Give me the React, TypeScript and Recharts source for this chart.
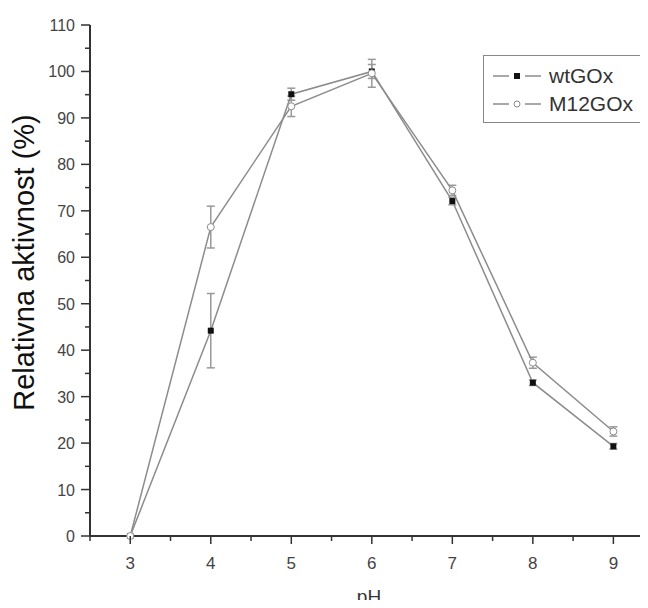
import { LineChart, Line, XAxis, YAxis, ErrorBar, Label } from "recharts"

const phValues = [3, 4, 5, 6, 7, 8, 9]
const wtGOx = [0, 44.2, 95.1, 100, 72.1, 33, 19.3]
const wtGOxErr = [0, 8, 1.3, 1.5, 0.8, 0.6, 0.6]
const m12GOx = [0, 66.5, 92.5, 99.6, 74.4, 37.3, 22.5]
const m12GOxErr = [0, 4.5, 2.2, 3, 1.1, 1.2, 1]

const seriesNames = ["wtGOx", "M12GOx"]
const xTicks = [2.5, 3, 3.5, 4, 4.5, 5, 5.5, 6, 6.5, 7, 7.5, 8, 8.5, 9]
const yTicks = Array.from({ length: 23 }, (_, i) => i * 5)

const data = phValues.map((ph, i) => ({
  ph,
  wt: wtGOx[i],
  wtErr: wtGOxErr[i],
  m12: m12GOx[i],
  m12Err: m12GOxErr[i],
}))

const AXIS = "#333"
const LINE = "#8c8c8c"
const FONT = "'Liberation Sans', Arial, sans-serif"

const XTick = (props: any) => {
  const { x, y, payload } = props
  const major = Number.isInteger(payload.value)
  return (
    <g>
      <line x1={x} x2={x} y1={y} y2={y + (major ? 8 : 5)} stroke={AXIS} strokeWidth={1.5} />
      {major && (
        <text x={x} y={y + 33} textAnchor="middle" fontSize={17} fill="#444" fontFamily={FONT}>
          {payload.value}
        </text>
      )}
    </g>
  )
}

const YTick = (props: any) => {
  const { x, y, payload } = props
  const major = payload.value % 10 === 0
  return (
    <g>
      <line x1={x - (major ? 9 : 5)} x2={x} y1={y} y2={y} stroke={AXIS} strokeWidth={1.5} />
      {major && (
        <text x={x - 15} y={y + 6} textAnchor="end" fontSize={16} fill="#444" fontFamily={FONT}>
          {payload.value}
        </text>
      )}
    </g>
  )
}

const WtDot = (props: any) => {
  const { cx, cy, index } = props
  return <rect key={`wt-${index}`} x={cx - 3} y={cy - 3} width={6} height={6} fill="#111" />
}

// legend box drawn over the plot, like the original
const LegendBox = () => (
  <div
    style={{
      position: "absolute",
      left: 483,
      top: 55,
      width: 158,
      height: 66,
      border: "1px solid #888",
      background: "#fff",
      fontFamily: FONT,
      fontSize: 21,
      color: "#333",
    }}
  >
    {seriesNames.map((name, i) => (
      <div key={name} style={{ position: "absolute", left: 0, top: 8 + i * 28, height: 24, display: "flex", alignItems: "center" }}>
        <svg width={62} height={24}>
          <line x1={9} x2={57} y1={12} y2={12} stroke={LINE} strokeWidth={1.5} />
          <rect x={25} y={9} width={16} height={6} fill="#fff" />
          {i === 0 ? (
            <rect x={30} y={9} width={6} height={6} fill="#111" />
          ) : (
            <circle cx={33} cy={12} r={3} fill="#fff" stroke={LINE} strokeWidth={1} />
          )}
        </svg>
        <span style={{ marginLeft: 3 }}>{name}</span>
      </div>
    ))}
  </div>
)

export default function App() {
  return (
    <div style={{ position: "relative", marginLeft: -8, marginTop: -8, marginBottom: -8, width: 648, height: 608, background: "#fff" }}>
      <LineChart width={648} height={608} data={data} margin={{ top: 25, right: 0, bottom: 0, left: 0 }}>
        <XAxis
          dataKey="ph"
          type="number"
          domain={[2.5, 9.43]}
          ticks={xTicks}
          interval={0}
          tick={<XTick />}
          tickLine={false}
          tickSize={0}
          tickMargin={0}
          axisLine={{ stroke: AXIS, strokeWidth: 2 }}
          height={72}
          allowDataOverflow
        >
          <Label value="pH" position="insideBottom" offset={5} fontSize={19} fill="#333" fontFamily={FONT} />
        </XAxis>
        <YAxis
          type="number"
          domain={[0, 110]}
          ticks={yTicks}
          interval={0}
          tick={<YTick />}
          tickLine={false}
          tickSize={0}
          tickMargin={0}
          axisLine={{ stroke: AXIS, strokeWidth: 2 }}
          width={90}
        >
          <Label
            value="Relativna aktivnost (%)"
            angle={-90}
            position="insideLeft"
            offset={0}
            dx={24}
            dy={-18}
            fontSize={29}
            fill="#111"
            fontFamily={FONT}
            style={{ textAnchor: "middle" }}
          />
        </YAxis>
        <Line
          dataKey="wt"
          name={seriesNames[0]}
          stroke={LINE}
          strokeWidth={1.5}
          dot={<WtDot />}
          activeDot={false}
          isAnimationActive={false}
        >
          <ErrorBar dataKey="wtErr" width={4} stroke="#999" strokeWidth={1.5} direction="y" />
        </Line>
        <Line
          dataKey="m12"
          name={seriesNames[1]}
          stroke={LINE}
          strokeWidth={1.5}
          dot={{ r: 3.5, fill: "#fff", stroke: LINE, strokeWidth: 1 }}
          activeDot={false}
          isAnimationActive={false}
        >
          <ErrorBar dataKey="m12Err" width={4} stroke="#999" strokeWidth={1.5} direction="y" />
        </Line>
      </LineChart>
      <LegendBox />
    </div>
  )
}
